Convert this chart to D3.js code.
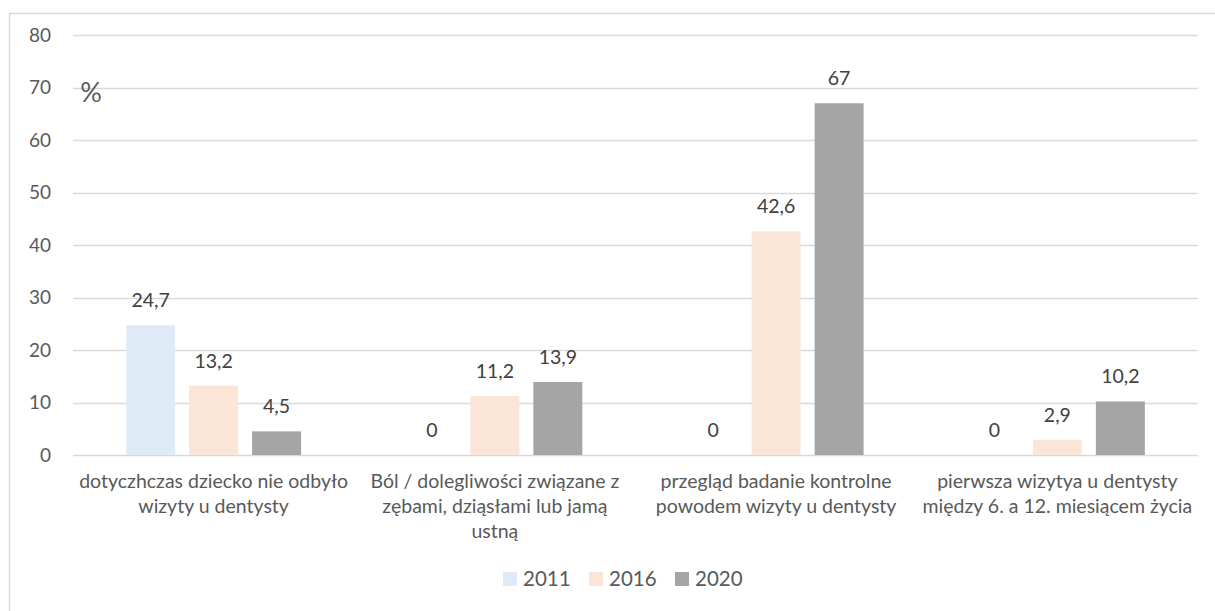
<!DOCTYPE html>
<html>
<head>
<meta charset="utf-8">
<script src="https://cdn.jsdelivr.net/npm/d3@7"></script>
<style>
  body { margin: 0; background: #fff; }
  svg { display: block; font-family: Lato, "Open Sans", sans-serif; }
</style>
</head>
<body>
<div id="chart"></div>
<script>
// data
const categories = [
    "dotyczhczas dziecko nie odbyło\nwizyty u dentysty",
    "Ból / dolegliwości związane z\nzębami, dziąsłami lub jamą\nustną",
    "przegląd badanie kontrolne\npowodem wizyty u dentysty",
    "pierwsza wizytya u dentysty\nmiędzy 6. a 12. miesiącem życia"
];
const seriesNames = ["2011", "2016", "2020"];
const values2011 = [24.7, 0, 0, 0];
const values2016 = [13.2, 11.2, 42.6, 2.9];
const values2020 = [4.5, 13.9, 67, 10.2];
const yTicks = [0, 10, 20, 30, 40, 50, 60, 70, 80];
const colors = ["#DEEBF7", "#FBE5D6", "#A5A5A5"];

const width = 1215, height = 611;
const margin = { left: 73, right: 17, top: 35, bottom: 156 };

const svg = d3.select("#chart")
    .append("svg")
    .attr("width", width)
    .attr("height", height);

// chart frame
svg.append("rect")
    .attr("x", 9.5)
    .attr("y", 13.5)
    .attr("width", 1215)
    .attr("height", 610)
    .attr("fill", "none")
    .attr("stroke", "#D9D9D9")
    .attr("stroke-width", 1.5);

const x0 = d3.scaleBand()
    .domain(d3.range(categories.length))
    .range([margin.left, width - margin.right])
    .paddingInner(0.378)
    .paddingOuter(0.189);

const x1 = d3.scaleBand()
    .domain(seriesNames)
    .range([0, x0.bandwidth()])
    .paddingInner(0.222);

const y = d3.scaleLinear()
    .domain([0, 80])
    .range([height - margin.bottom, margin.top]);

// gridlines
svg.append("g")
    .selectAll("line")
    .data(yTicks)
    .enter().append("line")
    .attr("x1", margin.left)
    .attr("x2", width - margin.right)
    .attr("y1", d => Math.round(y(d)) + 0.5)
    .attr("y2", d => Math.round(y(d)) + 0.5)
    .attr("stroke", "#D9D9D9")
    .attr("stroke-width", 1.3);

// y axis labels
const yAxis = d3.axisLeft(y).tickValues(yTicks).tickSize(0).tickPadding(0);
const yg = svg.append("g")
    .attr("transform", `translate(51,0)`)
    .call(yAxis);
yg.select(".domain").remove();
yg.selectAll("text")
    .attr("fill", "#595959")
    .style("font-size", "19px")
    .style("font-family", "Lato, sans-serif");

// "%" label
svg.append("text")
    .attr("x", 91)
    .attr("y", 102)
    .attr("text-anchor", "middle")
    .attr("fill", "#595959")
    .style("font-size", "27px")
    .text("%");

const series = [values2011, values2016, values2020];
const rows = [];
series.forEach((vals, s) => {
    vals.forEach((v, c) => rows.push({ s, c, v }));
});

// bars
svg.append("g")
    .selectAll("rect")
    .data(rows)
    .enter().append("rect")
    .attr("x", d => x0(d.c) + x1(seriesNames[d.s]))
    .attr("y", d => y(d.v))
    .attr("width", x1.bandwidth())
    .attr("height", d => y(0) - y(d.v))
    .attr("fill", d => colors[d.s]);

// data labels
svg.append("g")
    .selectAll("text")
    .data(rows)
    .enter().append("text")
    .attr("x", d => x0(d.c) + x1(seriesNames[d.s]) + x1.bandwidth() / 2)
    .attr("y", d => y(d.v) - 18)
    .attr("text-anchor", "middle")
    .attr("fill", "#404040")
    .style("font-size", "19.5px")
    .text(d => String(d.v).replace(".", ","));

// category labels
const catG = svg.append("g")
    .selectAll("text")
    .data(categories)
    .enter().append("text")
    .attr("text-anchor", "middle")
    .attr("fill", "#595959")
    .style("font-size", "19.5px")
    .attr("x", (d, i) => x0(i) + x0.bandwidth() / 2)
    .attr("y", 488);

catG.each(function (d, i) {
    const t = d3.select(this);
    d.split("\n").forEach((line, k) => {
        t.append("tspan")
            .attr("x", x0(i) + x0.bandwidth() / 2)
            .attr("dy", k === 0 ? 0 : 25)
            .text(line);
    });
});

// legend
const legend = svg.append("g")
    .selectAll("g")
    .data(seriesNames)
    .enter().append("g")
    .attr("transform", (d, i) => `translate(${503 + i * 86},572)`);

legend.append("rect")
    .attr("width", 14)
    .attr("height", 14)
    .attr("fill", (d, i) => colors[i]);

legend.append("text")
    .attr("x", 20)
    .attr("y", 14)
    .attr("fill", "#595959")
    .style("font-size", "20.5px")
    .text(d => d);
</script>
</body>
</html>
